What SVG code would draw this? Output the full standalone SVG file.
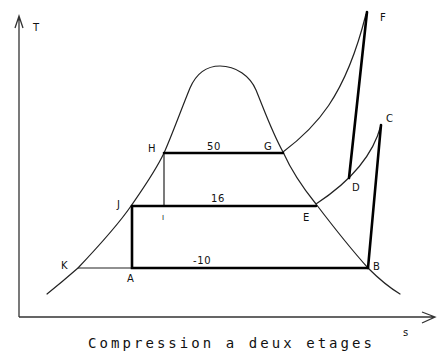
<svg xmlns="http://www.w3.org/2000/svg" width="437" height="352" viewBox="0 0 437 352">
<style>
.thin{fill:none;stroke:#222;stroke-width:1.2;stroke-linecap:round;stroke-linejoin:round}
.thick{fill:none;stroke:#000;stroke-width:2.6;stroke-linecap:round}
.ax{fill:none;stroke:#333;stroke-width:1.3}
.lb{font-family:"DejaVu Sans","Liberation Sans",sans-serif;font-size:10px;fill:#111;letter-spacing:0.6px}
.cap{font-family:"DejaVu Sans Mono","Liberation Mono",monospace;font-size:14px;fill:#111}
</style>
<rect width="437" height="352" fill="#fff"/>
<g id="axes">
<path class="ax" d="M19,317 V17 M15,28 L19,16 L23,28"/>
<path class="ax" d="M19,317 H435 M422,312 L435,317 L422,323"/>
<text class="lb" x="33" y="31">T</text>
<text class="lb" x="403" y="336">s</text>
</g>
<g id="dome">
<path class="thin" d="M47,294 C62,282 70,275 78,268 C95,250 118,225 131,206 C142,190 155,172 164,153 C172,135 181,110 190,88 C197,72 208,66 220,66 C236,66 250,76 256,90 C265,112 272,132 283,152 C292,172 303,188 316,204 C332,225 350,248 368,268 C380,280 390,288 400,294"/>
</g>
<g id="connectors">
<path class="thin" d="M283,152 C315,128 345,98 366,14"/>
<path class="thin" d="M316,204 C345,185 372,160 381,125"/>
<path class="thin" d="M78,268 H132"/>
<path class="thin" d="M164,153 V206"/>
<path class="thick" d="M164,153 H283"/>
<path class="thick" d="M132,206 H316"/>
<path class="thick" d="M132,206 V268 H368"/>
<path class="thick" d="M367,12 L349,178"/>
<path class="thick" d="M381,125 L368,268"/>
</g>
<g id="labels">
<text class="lb" x="148" y="152">H</text>
<text class="lb" x="207" y="150">50</text>
<text class="lb" x="264" y="150">G</text>
<text class="lb" x="117" y="208">J</text>
<text class="lb" x="162" y="220" style="font-size:7px">I</text>
<text class="lb" x="211" y="202">16</text>
<text class="lb" x="303" y="221">E</text>
<text class="lb" x="352" y="191">D</text>
<text class="lb" x="386" y="122">C</text>
<text class="lb" x="380" y="21">F</text>
<text class="lb" x="61" y="269">K</text>
<text class="lb" x="127" y="282">A</text>
<text class="lb" x="373" y="270">B</text>
<text class="lb" x="193" y="264">-10</text>
</g>
<text class="cap" x="88" y="348" textLength="284" lengthAdjust="spacing">Compression a deux etages</text>
</svg>
